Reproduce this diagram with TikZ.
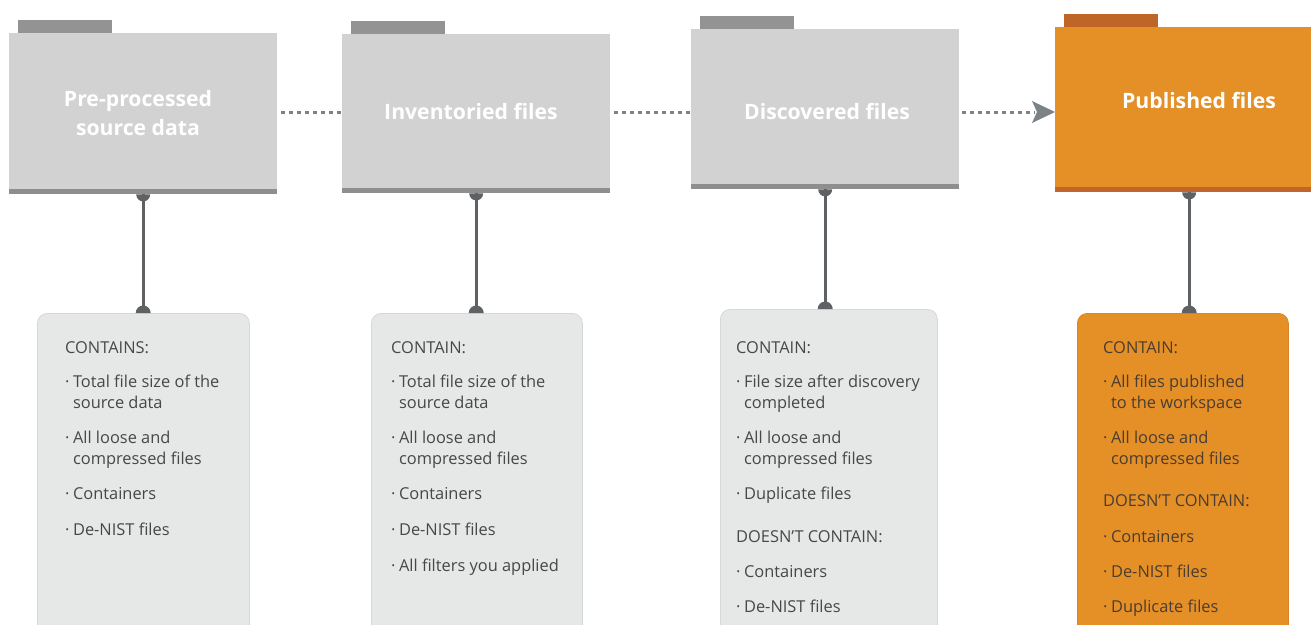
\documentclass[tikz,border=0pt]{standalone}
\usepackage{fontspec}
\setmainfont{Open Sans}
\usetikzlibrary{arrows.meta}
\definecolor{fgray}{HTML}{D2D2D2}
\definecolor{tgray}{HTML}{939393}
\definecolor{sgray}{HTML}{8E8E8E}
\definecolor{forange}{HTML}{E58F27}
\definecolor{torange}{HTML}{BD6628}
\definecolor{sorange}{HTML}{C0662A}
\definecolor{boxgray}{HTML}{E6E7E7}
\definecolor{boxline}{HTML}{D6D7D7}
\definecolor{oline}{HTML}{D9862A}
\definecolor{txtgray}{HTML}{474747}
\definecolor{txtorange}{HTML}{4A3D31}
\definecolor{conn}{HTML}{5F6264}
\definecolor{dots}{HTML}{7B8386}
\newcounter{tn}
\newcommand\bu{·\hspace{3.5pt}}
\newcommand\tl[4][txtgray]{\stepcounter{tn}\node[bodytext,text=#1,anchor=base west] (t\arabic{tn}) at (#2,#3) {#4};}
\newcommand\ti[4][txtgray]{\stepcounter{tn}\node[bodytext,text=#1,anchor=base west] (t\arabic{tn}) at (#2,#3) {\phantom{\bu}#4};}
\begin{document}
\begin{tikzpicture}[x=1pt,y=-1pt,
  folderbody/.style={inner sep=0pt,minimum width=268pt,anchor=north west},
  box/.style={rounded corners=10pt,inner sep=0pt,minimum height=400pt,anchor=north west,line width=0.8pt},
  title/.style={text=white,font=\fontsize{21.2}{30}\selectfont\bfseries,anchor=base,inner sep=0pt},
  bodytext/.style={font=\fontsize{16.4}{21}\selectfont,inner sep=0pt},
  connline/.style={draw=conn,line width=3pt},
  dotline/.style={draw=dots,line width=3pt,dash pattern=on 3.5pt off 4.5pt}]
\useasboundingbox (0,0) rectangle (1311,624);
\clip (0,0) rectangle (1311,624);
\fill[white] (0,0) rectangle (1311,624);

% folders
\node[folderbody,fill=fgray,minimum height=161pt] (f1) at (9,33) {};
\node[folderbody,fill=fgray,minimum height=159pt] (f2) at (342,34) {};
\node[folderbody,fill=fgray,minimum height=160pt] (f3) at (691,29) {};
\node[folderbody,fill=forange,minimum height=165pt] (f4) at (1055,27) {};
\foreach \f/\t/\s in {f1/tgray/sgray,f2/tgray/sgray,f3/tgray/sgray,f4/torange/sorange}{
  \fill[\t] ([xshift=8.5pt]\f.north west) rectangle ([xshift=102.5pt,yshift=13.5pt]\f.north west);
  \fill[\s] (\f.south west) rectangle ([yshift=5pt]\f.south east);
}
\node[title] (ttl1) at (138,106) {Pre-processed};
\node[title] (ttl1b) at (138,135) {source data};
\node[title] (ttl2) at (471,119) {Inventoried files};
\node[title] (ttl3) at (827,119) {Discovered files};
\node[title] (ttl4) at (1199,108) {Published files};

% dotted connectors
\draw[dotline] ([xshift=4pt]f1.east |- 0,112) -- ([xshift=-1pt]f2.west |- 0,112);
\draw[dotline] ([xshift=4pt]f2.east |- 0,112) -- ([xshift=-1pt]f3.west |- 0,112);
\draw[dotline] ([xshift=3pt]f3.east |- 0,112) -- ([xshift=-20pt]f4.west |- 0,112);
\fill[dots] (f4.west |- 0,112) -- ++(-23pt,11pt) -- ++(5pt,-11pt) -- ++(-5pt,-11pt) -- cycle;

% boxes
\node[box,fill=boxgray,draw=boxline,minimum width=212pt] (b1) at (37,313) {};
\node[box,fill=boxgray,draw=boxline,minimum width=211pt] (b2) at (371,313) {};
\node[box,fill=boxgray,draw=boxline,minimum width=217pt] (b3) at (720,309) {};
\node[box,fill=forange,draw=oline,minimum width=211pt] (b4) at (1077,313) {};

% vertical connectors
\foreach \f/\b in {f1/b1,f2/b2,f3/b3,f4/b4}{
  \draw[connline] (\f.south) -- (\f.south |- \b.north);
  \fill[conn] ([xshift=-7pt]\f.south) arc[start angle=180,end angle=360,radius=7pt] -- cycle;
  \fill[conn] ([xshift=-7.5pt]\f.south |- \b.north) arc[start angle=180,end angle=0,radius=7.5pt] -- cycle;
}

% box 1
\tl{65}{353}{CONTAINS:}
\tl{65}{387}{\bu Total file size of the}
\ti{65}{408}{source data}
\tl{65}{443}{\bu All loose and}
\ti{65}{464}{compressed files}
\tl{65}{499}{\bu Containers}
\tl{65}{535}{\bu De-NIST files}

% box 2
\tl{391}{353}{CONTAIN:}
\tl{391}{387}{\bu Total file size of the}
\ti{391}{408}{source data}
\tl{391}{443}{\bu All loose and}
\ti{391}{464}{compressed files}
\tl{391}{499}{\bu Containers}
\tl{391}{535}{\bu De-NIST files}
\tl{391}{571}{\bu All filters you applied}

% box 3
\tl{736}{353}{CONTAIN:}
\tl{736}{387}{\bu File size after discovery}
\ti{736}{408}{completed}
\tl{736}{443}{\bu All loose and}
\ti{736}{464}{compressed files}
\tl{736}{499}{\bu Duplicate files}
\tl{736}{542}{DOESN’T CONTAIN:}
\tl{736}{577}{\bu Containers}
\tl{736}{612}{\bu De-NIST files}

% box 4
\tl[txtorange]{1103}{353}{CONTAIN:}
\tl[txtorange]{1103}{387}{\bu All files published}
\ti[txtorange]{1103}{408}{to the workspace}
\tl[txtorange]{1103}{443}{\bu All loose and}
\ti[txtorange]{1103}{464}{compressed files}
\tl[txtorange]{1103}{506}{DOESN’T CONTAIN:}
\tl[txtorange]{1103}{542}{\bu Containers}
\tl[txtorange]{1103}{577}{\bu De-NIST files}
\tl[txtorange]{1103}{612}{\bu Duplicate files}
\end{tikzpicture}
\end{document}
